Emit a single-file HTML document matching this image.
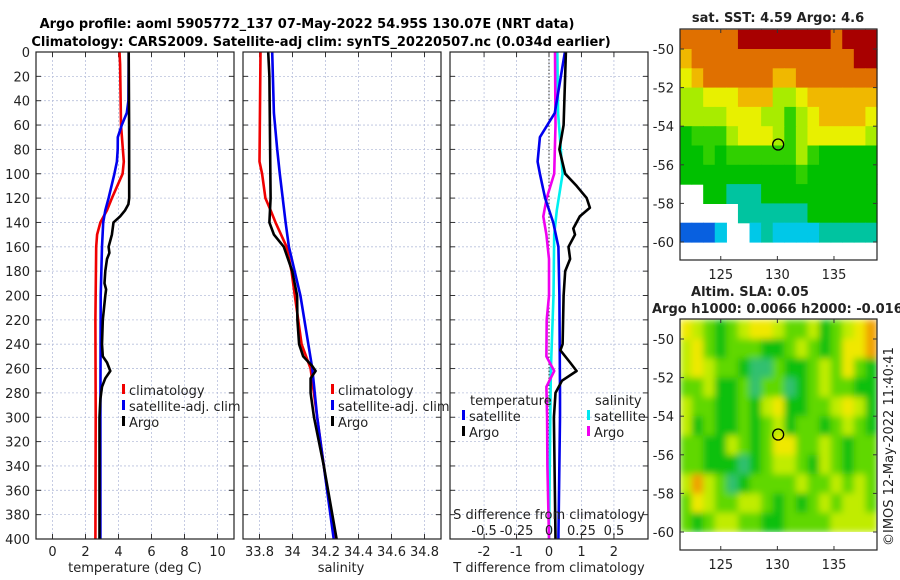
<!DOCTYPE html>
<html><head><meta charset="utf-8"><style>
html,body{margin:0;padding:0;background:#fff;}
svg{display:block;font-family:"DejaVu Sans","Liberation Sans",sans-serif;}
</style></head><body>
<svg id="fig" width="900" height="580" viewBox="0 0 900 580" xmlns="http://www.w3.org/2000/svg">
<defs>
<filter id="blur" x="0" y="0" width="100%" height="100%"><feGaussianBlur stdDeviation="3.5"/></filter>
<clipPath id="clipSla"><rect x="680" y="319" width="197" height="213"/></clipPath>
</defs>
<text x="307" y="28" text-anchor="middle" font-size="13" font-weight="bold">Argo profile: aoml 5905772_137 07-May-2022 54.95S 130.07E (NRT data)</text>
<text x="321" y="46" text-anchor="middle" font-size="13" font-weight="bold">Climatology: CARS2009. Satellite-adj clim: synTS_20220507.nc (0.034d earlier)</text>
<g id="layer"></g>
</svg>
<script>
// ---------- data ----------
const depthTicks=[0,20,40,60,80,100,120,140,160,180,200,220,240,260,280,300,320,340,360,380,400];
const tempTicks=[0,2,4,6,8,10];
const salTicks=[33.8,34,34.2,34.4,34.6,34.8];
const tdiffTicks=[-2,-1,0,1,2];
const sdiffTicks=[-0.5,-0.25,0,0.25,0.5];
const sdiffLabels=["-0.5","-0.25","0","0.25","0.5"];

const climTDepth=[0,10,60,90,100,120,130,140,150,160,220,300,400];
const climTVal=[4.06,4.1,4.15,4.32,4.25,3.6,3.3,2.9,2.7,2.65,2.6,2.62,2.6];
const satTDepth=[0,40,50,60,70,80,90,100,120,130,140,160,200,300,400];
const satTVal=[4.62,4.6,4.5,4.2,3.96,3.95,3.9,3.75,3.4,3.2,3.07,3.0,2.92,2.9,2.9];
const argoTDepth=[0,60,120,125,130,135,140,150,160,165,170,180,190,195,200,220,240,250,255,262,268,275,285,300,340,400];
const argoTVal=[4.62,4.64,4.65,4.6,4.4,4.1,3.7,3.6,3.4,3.45,3.3,3.2,3.15,3.25,3.2,3.05,3.0,3.05,3.3,3.5,3.2,3.0,2.9,2.85,2.85,2.85];

const climSDepth=[0,90,100,120,130,140,160,180,200,240,260,300,340,400];
const climSVal=[33.806,33.8,33.816,33.836,33.867,33.897,33.964,33.994,34.014,34.055,34.11,34.15,34.19,34.255];
const satSDepth=[0,50,80,100,140,160,200,260,300,400];
const satSVal=[33.877,33.887,33.907,33.923,33.958,33.978,34.048,34.12,34.15,34.25];
const argoSDepth=[0,20,120,140,150,160,180,200,220,240,250,258,262,268,280,300,320,340,400];
const argoSVal=[33.853,33.86,33.867,33.86,33.887,33.947,33.998,34.028,34.03,34.04,34.065,34.12,34.14,34.11,34.11,34.13,34.16,34.19,34.267];

const satTdDepth=[0,50,70,90,100,120,140,160,200,280,300,400];
const satTdVal=[0.49,0.18,-0.28,-0.35,-0.28,-0.12,0.13,0.29,0.32,0.34,0.34,0.29];
const argoTdDepth=[0,60,80,100,110,120,128,135,145,150,160,170,180,200,240,245,255,262,270,280,300,400];
const argoTdVal=[0.52,0.45,0.32,0.5,0.85,1.16,1.26,0.95,0.75,0.8,0.6,0.65,0.5,0.45,0.42,0.35,0.65,0.85,0.4,0.2,0.15,0.2];
const satSdDepth=[0,50,100,130,150,200,260,300,400];
const satSdVal=[0.064,0.07,0.105,0.06,0.04,0.035,0.015,0.01,0.0];
const argoSdDepth=[0,60,100,120,135,150,170,200,220,250,262,275,300,340,400];
const argoSdVal=[0.046,0.05,0.04,-0.018,-0.044,-0.02,0.0,0.0,-0.018,-0.02,0.04,-0.02,-0.015,-0.012,0.0];

// map grids (1 deg cells, lon 121.4.., lat -49 .. -60), -1 = no data
const sstGrid=[
[8,8,8,8,8,9,9,9,9,9,9,9,9,8,9,9,9],
[7,8,8,8,8,8,8,8,8,8,8,8,8,8,8,9,9],
[6,7,8,8,8,8,8,8,7,7,8,8,8,8,8,8,8],
[5,5,6,6,6,7,7,7,5,5,6,7,7,7,7,7,7],
[5,5,5,5,6,6,6,5,5,4,5,6,7,7,7,7,6],
[3,4,4,4,5,6,6,6,5,4,5,6,6,6,6,6,5],
[3,3,4,3,4,4,4,4,4,4,5,4,3,3,3,3,3],
[3,3,3,3,3,3,3,3,3,3,4,3,3,3,3,3,3],
[-1,-1,3,3,2,2,2,3,3,3,3,3,3,3,3,3,3],
[-1,-1,-1,-1,-1,2,2,2,2,2,2,3,3,3,3,3,3],
[0,0,0,1,-1,-1,1,2,1,1,1,1,2,2,2,2,2]];
const slaGrid=[
[5,4,3,2,3,4,5,5,4,3,3,4,2,3,4,5,6],
[4,5,3,2,3,3,3,2,2,3,4,3,2,3,5,5,6],
[4,5,4,3,3,2,1,1,3,2,2,3,4,3,5,3,2],
[3,3,4,2,2,3,1,3,3,1,2,3,4,3,3,2,2],
[4,3,3,2,2,3,2,4,5,2,2,3,3,4,5,4,2],
[4,2,3,2,2,3,2,3,4,2,3,3,2,3,4,3,2],
[3,3,2,2,4,3,2,3,5,5,3,3,4,3,2,3,3],
[3,3,2,2,2,1,2,3,4,4,3,2,4,3,2,3,3],
[4,6,4,3,1,2,3,3,3,3,4,3,3,4,3,4,3],
[3,5,4,3,3,4,4,3,2,3,2,3,4,3,4,4,3],
[3,2,3,4,4,3,3,2,2,3,3,3,3,4,4,4,4]];
const latTicks=[-50,-52,-54,-56,-58,-60];
const lonTicks=[125,130,135];
const argoLon=130.07, argoLat=-54.95;

// ---------- drawing ----------
const NS="http://www.w3.org/2000/svg";
const layer=document.getElementById('layer');
function el(tag,attrs,parent){const e=document.createElementNS(NS,tag);for(const k in attrs)e.setAttribute(k,attrs[k]);(parent||layer).appendChild(e);return e;}
function txt(x,y,s,size,anchor,parent){const t=el('text',{x:x,y:y,'font-size':size,'text-anchor':anchor||'middle',fill:'#222'},parent);t.textContent=s;return t;}

const Y0=52,Y1=539;
const yD=d=>Y0+(d/400)*(Y1-Y0);
function panel(x0,x1,xmin,xmax){return {x0,x1,sx:v=>x0+(v-xmin)/(xmax-xmin)*(x1-x0)};}
const P1=panel(36,234,-1,11), P2=panel(243,441,33.7,34.9), P3=panel(450,648,-3.05,3.05);
const sxS=v=>P3.sx(v*4);

function frame(P,xt,name){
  const g=el('g',{});
  
  
  depthTicks.forEach(d=>{const y=yD(d);
    el('line',{x1:P.x0,x2:P.x1,y1:y,y2:y,stroke:'#b8c0dc','stroke-width':0.8,'stroke-dasharray':'2,2'},g);
    el('line',{x1:P.x0,x2:P.x0+5,y1:y,y2:y,stroke:'#333'},g);
    el('line',{x1:P.x1-5,x2:P.x1,y1:y,y2:y,stroke:'#333'},g);});
  xt.forEach(v=>{const x=P.sx(v);
    el('line',{x1:x,x2:x,y1:Y0,y2:Y1,stroke:'#b8c0dc','stroke-width':0.8,'stroke-dasharray':'2,2'},g);
    el('line',{x1:x,x2:x,y1:Y0,y2:Y0+5,stroke:'#333'},g);
    el('line',{x1:x,x2:x,y1:Y1-5,y2:Y1,stroke:'#333'},g);});
  return g;
}
function border(P,name){const r=el('rect',{x:P.x0,y:Y0,width:P.x1-P.x0,height:Y1-Y0,fill:'none',stroke:'#222','stroke-width':1.2});
  }
function line(dep,val,sx,color,name,w){
  const pts=dep.map((d,i)=>sx(val[i]).toFixed(1)+','+yD(d).toFixed(1)).join(' ');
  const p=el('polyline',{points:pts,fill:'none',stroke:color,'stroke-width':w||2.6,'stroke-linejoin':'round'});
  
}

// panel 1
frame(P1,tempTicks,'temperature-grid');
depthTicks.forEach(d=>{const t=txt(30,yD(d)+5,String(d),13,'end');});
tempTicks.forEach(v=>{const t=txt(P1.sx(v),556,String(v),13);});
line(climTDepth,climTVal,P1.sx,'#f00000','climatology-temperature-line');
line(satTDepth,satTVal,P1.sx,'#0000ee','satellite-temperature-line');
line(argoTDepth,argoTVal,P1.sx,'#000','argo-temperature-line');
border(P1,'temperature-axes');
{const t=txt(135,572,'temperature (deg C)',13);}

// panel 2
frame(P2,salTicks,'salinity-grid');
salTicks.forEach(v=>{const t=txt(P2.sx(v),556,String(v),13);});
line(climSDepth,climSVal,P2.sx,'#f00000','climatology-salinity-line');
line(satSDepth,satSVal,P2.sx,'#0000ee','satellite-salinity-line');
line(argoSDepth,argoSVal,P2.sx,'#000','argo-salinity-line');
border(P2,'salinity-axes');
{const t=txt(341,572,'salinity',13);}

// panel 3
frame(P3,tdiffTicks,'difference-grid');
el('line',{x1:P3.sx(0),x2:P3.sx(0),y1:Y0,y2:Y1,stroke:'#333','stroke-width':1,'stroke-dasharray':'1.5,2'});
tdiffTicks.forEach(v=>{const t=txt(P3.sx(v),556,String(v),13);});
line(satSdDepth,satSdVal,sxS,'#00f0f0','satellite-salinity-difference-line');
line(argoSdDepth,argoSdVal,sxS,'#f000f0','argo-salinity-difference-line');
line(satTdDepth,satTdVal,P3.sx,'#0000ee','satellite-temperature-difference-line');
line(argoTdDepth,argoTdVal,P3.sx,'#000','argo-temperature-difference-line');
border(P3,'difference-axes');
{const t=txt(549,572,'T difference from climatology',13);}
{const t=txt(549,519,'S difference from climatology',13);}
sdiffTicks.forEach((v,i)=>{const t=txt(sxS(v),535,sdiffLabels[i],13);});

// legends
function legend(x,y,items,name){
  const g=el('g',{});
  items.forEach((it,i)=>{const yy=y+i*16;
    if(it[1])el('rect',{x:x,y:yy-11,width:3,height:10,fill:it[1]},g);
    txt(x+(it[1]?7:0),yy,it[0],13,'start',g);});
}
legend(122,395,[['climatology','#f00000'],['satellite-adj. clim','#0000ee'],['Argo','#000']],'temperature-legend');
legend(331,395,[['climatology','#f00000'],['satellite-adj. clim','#0000ee'],['Argo','#000']],'salinity-legend');
legend(470,405,[['temperature',null]],'diff-legend-temperature-header');
legend(462,421,[['satellite','#0000ee'],['Argo','#000']],'diff-legend-temperature');
legend(595,405,[['salinity',null]],'diff-legend-salinity-header');
legend(587,421,[['satellite','#00e8f0'],['Argo','#f000f0']],'diff-legend-salinity');

// maps
const sstColors=['#0860e0','#00c8e8','#00c4a0','#00c000','#30d000','#a8ec00','#e8f000','#f0b800','#e07000','#a80000'];
const slaColors=['#20b890','#30c070','#10c010','#60d800','#c0ec00','#f0e800','#f0a000','#e07000'];
function map(top,grid,colors,name,blur,latBottomY,lat50Y){
  const x0=680,x1=877,yTop=top,lonMin=121.4,lonMax=138.8;
  const mx=lon=>x0+(lon-lonMin)/(lonMax-lonMin)*(x1-x0);
  const my=lat=>lat50Y+(-50-lat)*((latBottomY-lat50Y)/10);
  const g=el('g',{});
  const cells=el('g',blur?{filter:'url(#blur)','clip-path':'url(#clipSla)'}:{},g);
  grid.forEach((row,r)=>row.forEach((v,c)=>{ if(v<0)return;
    const la0=-49-r, lo0=lonMin+c*(lonMax-lonMin)/row.length;
    const rc=el('rect',{x:mx(lo0),y:my(la0),width:(x1-x0)/row.length+0.6,height:my(la0-1)-my(la0)+0.6,fill:colors[v]},cells);
    
    
  }));
  const h=yTop+231;
  el('rect',{x:x0,y:yTop,width:x1-x0,height:h-yTop,fill:'none',stroke:'#222','stroke-width':1.2},g);
  latTicks.forEach(l=>{const y=my(l);el('line',{x1:x0,x2:x0+4,y1:y,y2:y,stroke:'#333'},g);el('line',{x1:x1-4,x2:x1,y1:y,y2:y,stroke:'#333'},g);
    const t=txt(674,y+5,String(l),13,'end',g);});
  lonTicks.forEach(l=>{const x=mx(l);el('line',{x1:x,x2:x,y1:h-4,y2:h,stroke:'#333'},g);el('line',{x1:x,x2:x,y1:yTop,y2:yTop+4,stroke:'#333'},g);
    const t=txt(x,h+19,String(l),13,'middle',g);});
  const c=el('circle',{cx:mx(argoLon),cy:my(argoLat),r:5.5,fill:'none',stroke:'#000','stroke-width':1.3},g);
  
}
map(29,sstGrid,sstColors,'sst-map',false,242,49);
map(319,slaGrid,slaColors,'sla-map',true,532,339);
{const t=txt(778,22,'sat. SST: 4.59 Argo: 4.6',13);t.setAttribute('font-weight','bold');}
{const t=txt(750,296,'Altim. SLA: 0.05',13);t.setAttribute('font-weight','bold');}
{const t=txt(652,313,'Argo h1000: 0.0066 h2000: -0.016',13,'start');t.setAttribute('font-weight','bold');}
{const t=txt(0,0,'©IMOS 12-May-2022 11:40:41',13,'start');t.setAttribute('transform','translate(893,546) rotate(-90)');}
</script>
</body></html>
